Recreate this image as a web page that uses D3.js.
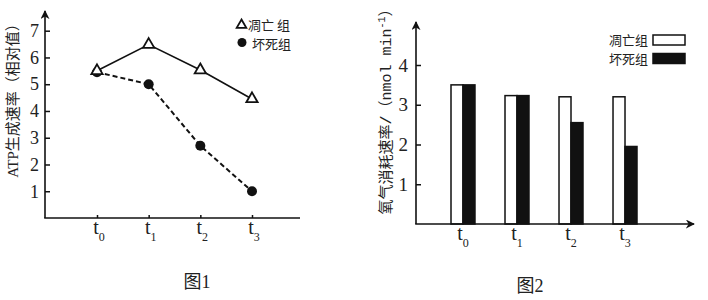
<!DOCTYPE html>
<html>
<head>
<meta charset="utf-8">
<script src="https://cdn.jsdelivr.net/npm/d3@7"></script>
<style>
  body { margin: 0; background: #fff; }
  svg { display: block; }
  .tick text { font-family: "Liberation Serif", serif; fill: #222; }
</style>
</head>
<body>
<div id="chart-area"></div>
<script>
// two figures: ATP rate (line) and O2 consumption (bars)

const timePoints = ["t0", "t1", "t2", "t3"]
const groups = ["凋亡组", "坏死组"]

// fig 1 - ATP生成速率
const atpApoptosis = [5.5, 6.48, 5.53, 4.45]
const atpNecrosis = [5.45, 5.0, 2.7, 1.0]
const atpTicks = [1, 2, 3, 4, 5, 6, 7]

// fig 2 - 氧气消耗速率
const o2Apoptosis = [3.5, 3.23, 3.2, 3.2]
const o2Necrosis = [3.5, 3.23, 2.55, 1.95]
const o2Ticks = [1, 2, 3, 4]

const INK = "#111"
const CJK = "'Noto Sans CJK SC', sans-serif"
const SERIF_CJK = "'Liberation Serif', 'Noto Sans CJK SC', serif"

const svg = d3.select("#chart-area").append("svg")
    .attr("width", 708)
    .attr("height", 300)

const defs = svg.append("defs")
defs.append("marker")
    .attr("id", "arrow")
    .attr("viewBox", "0 0 10 10")
    .attr("refX", 9).attr("refY", 5)
    .attr("markerWidth", 9).attr("markerHeight", 9)
    .attr("markerUnits", "userSpaceOnUse")
    .attr("orient", "auto")
  .append("path")
    .attr("d", "M0,0 L10,5 L0,10 L3,5 Z")
    .attr("fill", INK)

// helper for t labels with subscripts
function tLabel(sel, x, y, name) {
  const t = sel.append("text")
      .attr("x", x).attr("y", y)
      .attr("font-family", "'Liberation Serif', serif")
      .attr("font-size", "20px")
      .attr("fill", "#222")
      .attr("text-anchor", "middle")
  t.append("tspan").text(name[0])
  t.append("tspan").attr("dy", 7).attr("font-size", "12px").text(name.slice(1))
}

// ---------- 图1 ----------
const x1 = d3.scalePoint().domain(timePoints).range([97, 252])
const y1 = d3.scaleLinear().domain([0, 7]).range([218, 30.7])

const g1 = svg.append("g")

g1.append("g")
    .attr("transform", "translate(45,0)")
    .call(d3.axisLeft(y1).tickValues(atpTicks).tickFormat(d3.format("d"))
        .tickSizeInner(-5).tickSizeOuter(0).tickPadding(6))
    .call(g => g.select(".domain").remove())
    .call(g => g.selectAll(".tick line").attr("stroke", INK).attr("stroke-width", 1.5))
    .call(g => g.selectAll(".tick text").attr("font-size", "18px"))

g1.append("g")
    .attr("transform", "translate(0,218)")
    .call(d3.axisBottom(x1).tickSizeInner(-3).tickSizeOuter(0).tickFormat(""))
    .call(g => g.select(".domain").remove())
    .call(g => g.selectAll(".tick line").attr("stroke", INK).attr("stroke-width", 1.5))

// axis lines
g1.append("line").attr("x1", 45).attr("y1", 218).attr("x2", 45).attr("y2", 11)
    .attr("stroke", INK).attr("stroke-width", 1.6).attr("marker-end", "url(#arrow)")
g1.append("line").attr("x1", 44.2).attr("y1", 218).attr("x2", 300).attr("y2", 218)
    .attr("stroke", INK).attr("stroke-width", 1.6)

timePoints.forEach(t => tLabel(g1, x1(t) + 2, 234, t))

const line1 = d3.line().x((d, i) => x1(timePoints[i])).y(d => y1(d))

g1.append("path").datum(atpNecrosis)
    .attr("d", line1).attr("fill", "none")
    .attr("stroke", INK).attr("stroke-width", 2).attr("stroke-dasharray", "5,3")
g1.append("path").datum(atpApoptosis)
    .attr("d", line1).attr("fill", "none")
    .attr("stroke", INK).attr("stroke-width", 1.6)

g1.selectAll(".dot").data(atpNecrosis).enter().append("circle")
    .attr("class", "dot")
    .attr("cx", (d, i) => x1(timePoints[i]))
    .attr("cy", d => y1(d))
    .attr("r", 5)
    .attr("fill", INK)

const tri = d3.symbol().type(d3.symbolTriangle).size(55)
g1.selectAll(".tri").data(atpApoptosis).enter().append("path")
    .attr("class", "tri")
    .attr("d", tri)
    .attr("transform", (d, i) => `translate(${x1(timePoints[i])},${y1(d)})`)
    .attr("fill", "#fff").attr("stroke", INK).attr("stroke-width", 1.8)

// legend 1
g1.append("path").attr("d", d3.symbol().type(d3.symbolTriangle).size(40))
    .attr("transform", "translate(241.5,25)")
    .attr("fill", "#fff").attr("stroke", INK).attr("stroke-width", 1.8)
g1.append("text").attr("x", 248).attr("y", 30)
    .attr("font-family", CJK).attr("font-size", "13px").attr("fill", "#222")
    .text("凋亡 组")
g1.append("circle").attr("cx", 242).attr("cy", 42.5).attr("r", 4.5).attr("fill", INK)
g1.append("text").attr("x", 252).attr("y", 49)
    .attr("font-family", CJK).attr("font-size", "13px").attr("fill", "#222")
    .text("坏死组")

// y label 1
g1.append("text")
    .attr("transform", "translate(13,97) rotate(-90)")
    .attr("text-anchor", "middle")
    .attr("dy", "0.35em")
    .attr("font-family", SERIF_CJK)
    .attr("font-size", "15px")
    .attr("fill", "#222")
    .text("ATP生成速率（相对值）")

g1.append("text").attr("x", 197).attr("y", 288)
    .attr("text-anchor", "middle")
    .attr("font-family", SERIF_CJK).attr("font-size", "18px").attr("fill", "#222")
    .text("图1")

// ---------- 图2 ----------
const x2 = d3.scaleBand().domain(timePoints).range([451, 637]).paddingInner(0.556).paddingOuter(0)
const xSub = d3.scaleBand().domain(groups).range([0, x2.bandwidth()])
const y2 = d3.scaleLinear().domain([0, 4]).range([224, 65])

const g2 = svg.append("g")

g2.append("g")
    .attr("transform", "translate(416,0)")
    .call(d3.axisLeft(y2).tickValues(o2Ticks).tickFormat(d3.format("d"))
        .tickSizeInner(-5).tickSizeOuter(0).tickPadding(8))
    .call(g => g.select(".domain").remove())
    .call(g => g.selectAll(".tick line").attr("stroke", INK).attr("stroke-width", 1.5))
    .call(g => g.selectAll(".tick text").attr("font-size", "19px"))

const barData = timePoints.map((t, i) => ({ t: t, vals: [o2Apoptosis[i], o2Necrosis[i]] }))

const pairs = g2.selectAll(".pair").data(barData).enter().append("g")
    .attr("class", "pair")
    .attr("transform", d => `translate(${x2(d.t)},0)`)

pairs.selectAll("rect").data(d => d.vals.map((v, j) => ({ g: groups[j], v: v }))).enter().append("rect")
    .attr("x", d => xSub(d.g))
    .attr("y", d => y2(d.v))
    .attr("width", xSub.bandwidth())
    .attr("height", d => y2(0) - y2(d.v))
    .attr("fill", d => d.g === groups[0] ? "#fff" : INK)
    .attr("stroke", INK)
    .attr("stroke-width", 1.5)

g2.append("line").attr("x1", 416).attr("y1", 224).attr("x2", 416).attr("y2", 22)
    .attr("stroke", INK).attr("stroke-width", 1.6).attr("marker-end", "url(#arrow)")
g2.append("line").attr("x1", 415.2).attr("y1", 224).attr("x2", 694).attr("y2", 224)
    .attr("stroke", INK).attr("stroke-width", 1.6).attr("marker-end", "url(#arrow)")

timePoints.forEach(t => tLabel(g2, x2(t) + x2.bandwidth() / 2, 240, t))

// legend 2
groups.forEach((grp, j) => {
  g2.append("text").attr("x", 648).attr("y", 45 + j * 19)
      .attr("text-anchor", "end")
      .attr("font-family", CJK).attr("font-size", "13px").attr("fill", "#222")
      .text(grp)
  g2.append("rect").attr("x", 653).attr("y", 35 + j * 18.5)
      .attr("width", 32).attr("height", 10)
      .attr("fill", j === 0 ? "#fff" : INK)
      .attr("stroke", INK).attr("stroke-width", 1.5)
})

// y label 2
const yl2 = g2.append("text")
    .attr("transform", "translate(386,108) rotate(-90)")
    .attr("text-anchor", "middle")
    .attr("dy", "0.35em")
    .attr("font-family", CJK)
    .attr("font-size", "15px")
    .attr("fill", "#222")
yl2.append("tspan").text("氧气消耗速率")
yl2.append("tspan").attr("font-family", "'Liberation Mono', monospace").text("/")
yl2.append("tspan").text("（")
yl2.append("tspan").attr("font-family", "'Liberation Mono', monospace").text("nmol min")
yl2.append("tspan").attr("font-family", "'Liberation Mono', monospace")
    .attr("font-size", "10px").attr("dy", "-6").text("-1")
yl2.append("tspan").attr("dy", "6").text("）")

g2.append("text").attr("x", 530).attr("y", 292)
    .attr("text-anchor", "middle")
    .attr("font-family", SERIF_CJK).attr("font-size", "18px").attr("fill", "#222")
    .text("图2")
</script>
</body>
</html>
